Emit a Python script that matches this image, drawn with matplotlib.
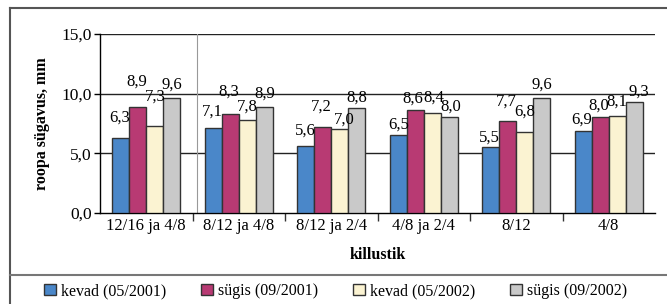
import numpy as np
import matplotlib
matplotlib.use("Agg")
import matplotlib.pyplot as plt
from matplotlib.lines import Line2D
from matplotlib.patches import Patch

plt.rcParams['font.family'] = ['Liberation Serif', 'DejaVu Serif']

# data
categories = ['12/16 ja 4/8', '8/12 ja 4/8', '8/12 ja 2/4', '4/8 ja 2/4', '8/12', '4/8']
series_names = ['kevad (05/2001)', 'sügis (09/2001)', 'kevad (05/2002)', 'sügis (09/2002)']
kevad_2001 = [6.3, 7.1, 5.6, 6.5, 5.5, 6.9]
sygis_2001 = [8.9, 8.3, 7.2, 8.6, 7.7, 8.0]
kevad_2002 = [7.3, 7.8, 7.0, 8.4, 6.8, 8.1]
sygis_2002 = [9.6, 8.9, 8.8, 8.0, 9.6, 9.3]

colors = ['#4a87c9', '#b83a73', '#fbf3d2', '#c9c9c9']
# label lift above bar top (points), per series, per group
lift = [[9, 6, 5, 2, 1, 2],
        [12, 10, 9, 3, 8, 3],
        [15, 4, 1, 5, 9, 5],
        [4, 4, 2, 2, 4, 2]]
# small sideways nudges (points)
nudge = [[-1, -1, 0, 0, -1, -1],
         [-1, -1, -1, -2, -1, -1],
         [0, 0, 3, 1, 0, 0],
         [0, 0, 0, 1, 0, 3]]

series = [kevad_2001, sygis_2001, kevad_2002, sygis_2002]

fig = plt.figure(figsize=(6.67, 3.04), dpi=100)
ax = fig.add_axes([0.15, 0.300, 0.832, 0.588])

x = np.arange(len(categories))
w = 0.184
for i, vals in enumerate(series):
    pos = x + (i - 1.5) * w
    ax.bar(pos, vals, w, color=colors[i], edgecolor='#333333', linewidth=1.0,
           zorder=3, label=series_names[i])
    for j, v in enumerate(vals):
        ax.annotate(('%.1f' % v).replace('.', ','), (pos[j], v),
                    xytext=(nudge[i][j], lift[i][j]), textcoords='offset points',
                    ha='center', va='bottom', fontsize=12, zorder=4)

ax.set_ylim(0, 15)
ax.set_xlim(-0.5, len(categories) - 0.5)
ax.set_yticks([0, 5, 10, 15])
ax.set_yticklabels(['0,0', '5,0', '10,0', '15,0'], fontsize=12.5)
for yv in [5, 10, 15]:
    ax.axhline(yv, color='#222222', lw=1.0, zorder=1)
ax.axvline(0.55, color='#999999', lw=0.8, zorder=1)

ax.set_xticks(x)
ax.set_xticklabels(categories, fontsize=12)
ax.tick_params(axis='x', length=0, pad=4)
ax.set_xticks(np.arange(0.5, len(categories) - 0.5), minor=True)
ax.tick_params(axis='x', which='minor', length=6, width=1.0, color='#333333')
ax.tick_params(axis='y', length=4, width=1.0, pad=2)

for s in ['top', 'right']:
    ax.spines[s].set_visible(False)
ax.spines['left'].set_linewidth(1.0)
ax.spines['bottom'].set_linewidth(1.0)

ax.set_ylabel('roopa sügavus, mm', fontsize=11.5, fontweight='bold', labelpad=8)
ax.set_xlabel('killustik', fontsize=11.5, fontweight='bold', labelpad=9)

# outer frame and legend separator
fig.add_artist(Line2D([0.015, 0.015], [0, 0.974], color='#555555', lw=1.5))
fig.add_artist(Line2D([0.015, 1.0], [0.974, 0.974], color='#555555', lw=1.5))
fig.add_artist(Line2D([0.015, 1.0], [0.095, 0.095], color='#777777', lw=1.5))

handles = [Patch(facecolor=colors[i], edgecolor='#333333', lw=1.0) for i in range(4)]
fig.legend(handles, series_names, loc='center', bbox_to_anchor=(0.503, 0.043),
           ncol=4, frameon=False, fontsize=11.5, handlelength=0.75, handleheight=0.75,
           handletextpad=0.3, columnspacing=2.2)

fig.savefig('out.png', dpi=100)
